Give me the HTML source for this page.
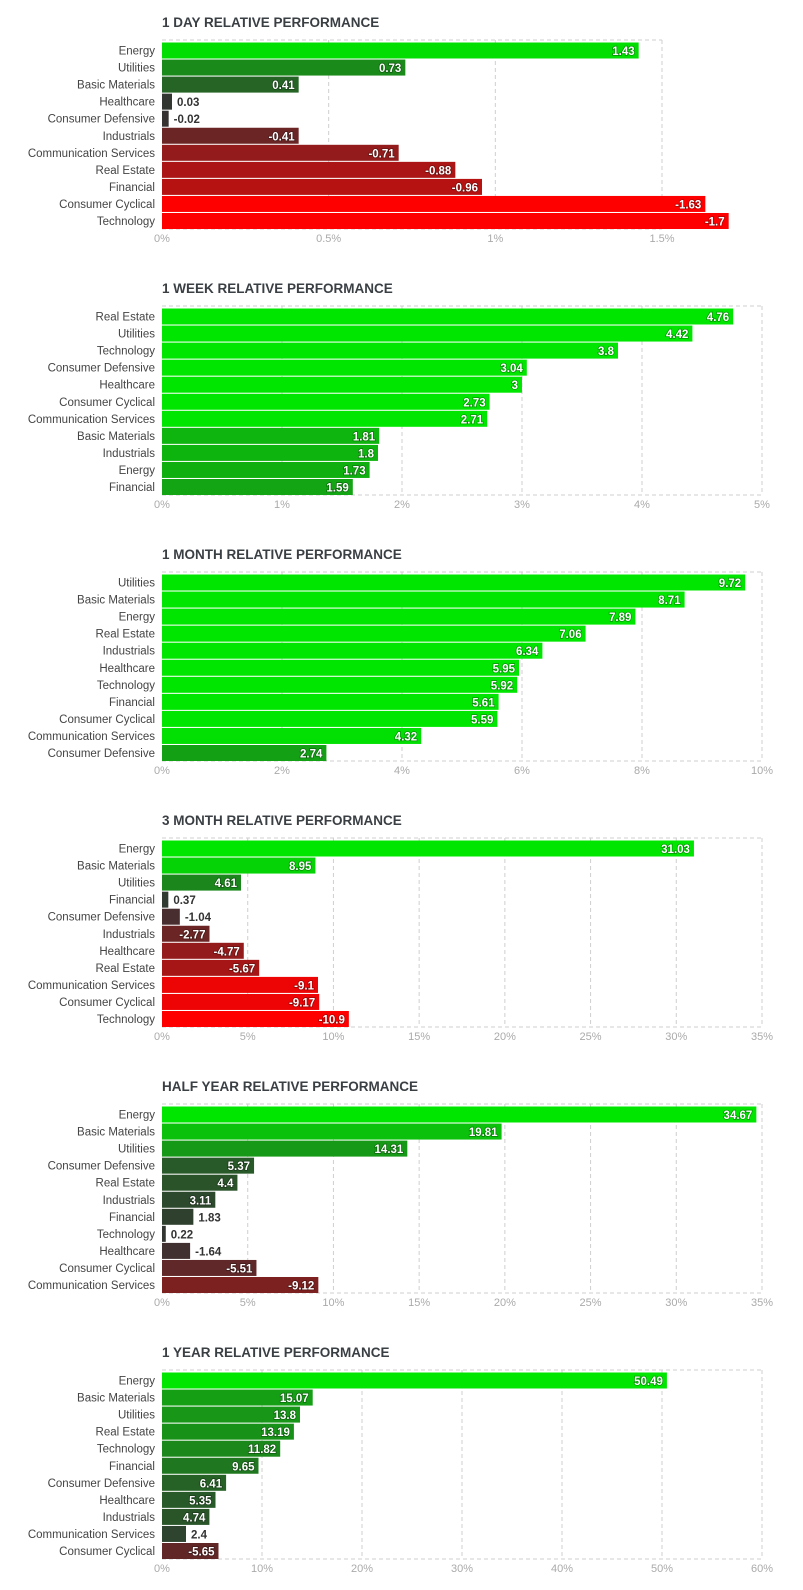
<!DOCTYPE html>
<html><head><meta charset="utf-8">
<style>
html,body{margin:0;padding:0;background:#fff;width:803px;height:1590px;overflow:hidden}
svg{display:block}
text{font-family:"Liberation Sans",sans-serif}
</style></head>
<body>
<svg id="root" width="803" height="1590"></svg>
<script>
const titles=["1 DAY RELATIVE PERFORMANCE","1 WEEK RELATIVE PERFORMANCE","1 MONTH RELATIVE PERFORMANCE","3 MONTH RELATIVE PERFORMANCE","HALF YEAR RELATIVE PERFORMANCE","1 YEAR RELATIVE PERFORMANCE"];
const cats1d=["Energy","Utilities","Basic Materials","Healthcare","Consumer Defensive","Industrials","Communication Services","Real Estate","Financial","Consumer Cyclical","Technology"];
const vals1d=[1.43,0.73,0.41,0.03,-0.02,-0.41,-0.71,-0.88,-0.96,-1.63,-1.7];
const cats1w=["Real Estate","Utilities","Technology","Consumer Defensive","Healthcare","Consumer Cyclical","Communication Services","Basic Materials","Industrials","Energy","Financial"];
const vals1w=[4.76,4.42,3.8,3.04,3,2.73,2.71,1.81,1.8,1.73,1.59];
const cats1m=["Utilities","Basic Materials","Energy","Real Estate","Industrials","Healthcare","Technology","Financial","Consumer Cyclical","Communication Services","Consumer Defensive"];
const vals1m=[9.72,8.71,7.89,7.06,6.34,5.95,5.92,5.61,5.59,4.32,2.74];
const cats3m=["Energy","Basic Materials","Utilities","Financial","Consumer Defensive","Industrials","Healthcare","Real Estate","Communication Services","Consumer Cyclical","Technology"];
const vals3m=[31.03,8.95,4.61,0.37,-1.04,-2.77,-4.77,-5.67,-9.1,-9.17,-10.9];
const catsHy=["Energy","Basic Materials","Utilities","Consumer Defensive","Real Estate","Industrials","Financial","Technology","Healthcare","Consumer Cyclical","Communication Services"];
const valsHy=[34.67,19.81,14.31,5.37,4.4,3.11,1.83,0.22,-1.64,-5.51,-9.12];
const cats1y=["Energy","Basic Materials","Utilities","Real Estate","Technology","Financial","Consumer Defensive","Healthcare","Industrials","Communication Services","Consumer Cyclical"];
const vals1y=[50.49,15.07,13.8,13.19,11.82,9.65,6.41,5.35,4.74,2.4,-5.65];
const ticks1d=[0,0.5,1,1.5];
const ticks1w=[0,1,2,3,4,5];
const ticks1m=[0,2,4,6,8,10];
const ticks3m=[0,5,10,15,20,25,30,35];
const ticksHy=[0,5,10,15,20,25,30,35];
const ticks1y=[0,10,20,30,40,50,60];
const colorCaps=[1.5,2.5,4.5,10,25,25];

const charts=[[cats1d,vals1d,ticks1d],[cats1w,vals1w,ticks1w],[cats1m,vals1m,ticks1m],[cats3m,vals3m,ticks3m],[catsHy,valsHy,ticksHy],[cats1y,vals1y,ticks1y]];
const plotRight=[662,762,762,762,762,762];
const NS="http://www.w3.org/2000/svg";
const root=document.getElementById('root');
function mk(tag,attrs,parent){const e=document.createElementNS(NS,tag);for(const k in attrs)e.setAttribute(k,attrs[k]);parent.appendChild(e);return e;}
function color(v,cap){let t=Math.min(Math.abs(v)/cap,1);const base=[0x33,0x33,0x33];const tgt=v>=0?[0x00,0xe6,0x00]:[0xff,0x00,0x00];const c=base.map((b,i)=>Math.round(b+(tgt[i]-b)*t));return `rgb(${c.join(',')})`;}
const X0=162,PITCH=266;
charts.forEach(([cats,vals,ticks],ci)=>{
  const oy=ci*PITCH;
  const X1=plotRight[ci];
  const g=mk('g',{},root);
  
  
  const tmax=ticks[ticks.length-1];
  const xs=v=>X0+Math.abs(v)/tmax*(X1-X0);
  const top=oy+40,bot=oy+229;
  const t=mk('text',{x:X0,y:oy+27,'font-size':'13.5','font-weight':'bold',fill:'#3a3f44'},g);
  t.textContent=titles[ci];
  
  
  ticks.forEach((tk,i)=>{
    const x=xs(tk);
    if(i>0){const l=mk('line',{x1:x,y1:top,x2:x,y2:bot,stroke:'#cfcfcf','stroke-dasharray':'4,3'},g);
      
      }
    const tl=mk('text',{x:x,y:bot+13,'font-size':'11',fill:'#aaa','text-anchor':'middle'},g);
    tl.textContent=tk+'%';
    
    
  });
  const b1=mk('line',{x1:X0,y1:top,x2:X1,y2:top,stroke:'#cfcfcf','stroke-dasharray':'4,3'},g);
  
  
  const b2=mk('line',{x1:X0,y1:bot,x2:X1,y2:bot,stroke:'#cfcfcf','stroke-dasharray':'4,3'},g);
  
  
  cats.forEach((c,i)=>{
    const y=oy+42.5+i*17.05;
    const v=vals[i];
    const w=Math.max(xs(v)-X0,2);
    const lab=mk('text',{x:155,y:y+12,'font-size':'11.5',fill:'#444','text-anchor':'end'},g);
    lab.textContent=c;
    
    
    const r=mk('rect',{x:X0,y:y,width:w,height:16,fill:color(v,colorCaps[ci])},g);
    
    
    const inside=w>=40;
    const vt=mk('text',{x:inside?X0+w-4:X0+w+5,y:y+12.5,'font-size':'11.5','font-weight':'bold',fill:inside?'#fff':'#333','text-anchor':inside?'end':'start'},g);
    if(inside)vt.setAttribute('style','paint-order:stroke;stroke:rgba(0,0,0,0.35);stroke-width:1.5px');
    vt.textContent=String(v);
    
    
  });
});
</script>
</body></html>
